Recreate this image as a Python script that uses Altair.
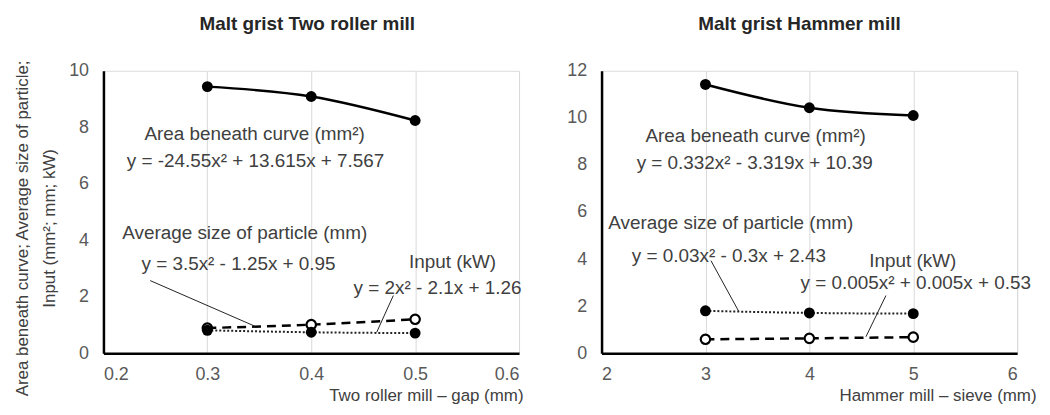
import altair as alt
import pandas as pd

FONT = "Liberation Sans"

# ---- data: two roller mill ----
gap = [0.3, 0.4, 0.5]
roller_area = [9.44, 9.09, 8.24]
roller_dashed = [0.89, 1.01, 1.20]
roller_dotted = [0.81, 0.74, 0.71]

# ---- data: hammer mill ----
sieve = [3, 4, 5]
hammer_area = [11.42, 10.43, 10.10]
hammer_dotted = [1.80, 1.71, 1.68]
hammer_dashed = [0.59, 0.63, 0.68]

# ---- annotation texts ----
roller_texts = ["Area beneath curve (mm²)", "y = -24.55x² + 13.615x + 7.567",
                "Average size of particle (mm)", "y = 3.5x² - 1.25x + 0.95",
                "Input (kW)", "y = 2x² - 2.1x + 1.26"]
roller_tx = [0.3455, 0.3464, 0.336, 0.330, 0.536, 0.5215]
roller_ty = [7.75, 6.80, 4.26, 3.17, 3.24, 2.32]
roller_lead_x = [0.245, 0.479]
roller_lead_y = [2.57, 2.04]
roller_lead_x2 = [0.346, 0.463]
roller_lead_y2 = [0.95, 0.74]

hammer_texts = ["Area beneath curve (mm²)", "y = 0.332x² - 3.319x + 10.39",
                "Average size of particle (mm)", "y = 0.03x² - 0.3x + 2.43",
                "Input (kW)", "y = 0.005x² + 0.005x + 0.53"]
hammer_tx = [3.483, 3.474, 3.244, 3.225, 4.995, 5.024]
hammer_ty = [9.21, 8.07, 5.53, 4.14, 3.93, 2.96]
hammer_lead_x = [3.053, 4.737]
hammer_lead_y = [3.93, 2.45]
hammer_lead_x2 = [3.32, 4.545]
hammer_lead_y2 = [1.78, 0.70]

W, H = 418, 284


def panel(xs, area, dashed, dotted, xdom, xticks, xfmt, ydom, yticks,
          title, title_dx, xtitle, xtitle_x, ytitle, texts, tx, ty, lx, ly, lx2, ly2):
    xaxis = alt.Axis(values=xticks, format=xfmt, grid=True, gridColor="#d9d9d9",
                     gridWidth=1, domainColor="black", domainWidth=2.5, ticks=False,
                     labelFontSize=18, labelColor="#595959", labelFont=FONT,
                     labelPadding=12, title=xtitle, titleFontSize=17,
                     titleFontWeight="normal", titleColor="#404040", titleFont=FONT,
                     titleX=xtitle_x, titleAlign="right", titlePadding=5)
    yaxis_kw = dict(values=yticks, grid=False, domainColor="black", domainWidth=2.5,
                    ticks=False, labelFontSize=18, labelColor="#595959",
                    labelFont=FONT, labelPadding=15)
    if ytitle:
        yaxis = alt.Axis(title=ytitle, titleFontSize=17, titleFontWeight="normal",
                         titleColor="#404040", titleFont=FONT, titlePadding=10,
                         titleLineHeight=27, titleY=H / 2 + 16, **yaxis_kw)
    else:
        yaxis = alt.Axis(title=None, **yaxis_kw)
    X = alt.X("x:Q", scale=alt.Scale(domain=xdom, nice=False, zero=False), axis=xaxis)
    Y = alt.Y("y:Q", scale=alt.Scale(domain=ydom, nice=False), axis=yaxis)

    d_area = pd.DataFrame({"x": xs, "y": area})
    d_dash = pd.DataFrame({"x": xs, "y": dashed})
    d_dot = pd.DataFrame({"x": xs, "y": dotted})
    d_txt = pd.DataFrame({"x": tx, "y": ty, "t": texts})
    d_lead = pd.DataFrame({"x": lx, "y": ly, "x2": lx2, "y2": ly2})
    d_title = pd.DataFrame({"t": [title]})

    layers = [
        alt.Chart(d_area).mark_line(color="black", strokeWidth=2.5, interpolate="natural").encode(x=X, y=Y),
        alt.Chart(d_area).mark_point(filled=True, color="black", size=120, opacity=1).encode(x=X, y=Y),
        alt.Chart(d_dash).mark_line(color="black", strokeWidth=2.5, strokeDash=[9, 6], interpolate="natural").encode(x=X, y=Y),
        alt.Chart(d_dash).mark_point(filled=True, fill="white", stroke="black", strokeWidth=2.2, size=90, opacity=1).encode(x=X, y=Y),
        alt.Chart(d_dot).mark_line(color="#222222", strokeWidth=2, strokeDash=[2, 2], interpolate="natural").encode(x=X, y=Y),
        alt.Chart(d_dot).mark_point(filled=True, color="black", size=120, opacity=1).encode(x=X, y=Y),
        alt.Chart(d_lead).mark_rule(color="#222222", strokeWidth=1).encode(x=X, y=Y, x2="x2:Q", y2="y2:Q"),
        alt.Chart(d_txt).mark_text(fontSize=19, font=FONT, color="#404040", align="center", baseline="middle").encode(x=X, y=Y, text="t:N"),
        alt.Chart(d_title).mark_text(fontSize=19, fontWeight="bold", font=FONT, color="#262626",
                                     align="center", baseline="middle").encode(
            text="t:N", x=alt.value(W / 2 + title_dx), y=alt.value(-47)),
    ]
    return alt.layer(*layers).properties(width=W, height=H)


left = panel(gap, roller_area, roller_dashed, roller_dotted, [0.2, 0.6],
             [0.2, 0.3, 0.4, 0.5, 0.6], ".1f", [0, 10], [0, 2, 4, 6, 8, 10],
             "Malt grist Two roller mill", -4, "Two roller mill – gap (mm)", 422,
             ["Area beneath curve; Average size of particle;", "Input (mm²; mm; kW)"],
             roller_texts, roller_tx, roller_ty,
             roller_lead_x, roller_lead_y, roller_lead_x2, roller_lead_y2)

right = panel(sieve, hammer_area, hammer_dashed, hammer_dotted, [2, 6],
              [2, 3, 4, 5, 6], "d", [0, 12], [0, 2, 4, 6, 8, 10, 12],
              "Malt grist Hammer mill", -10, "Hammer mill – sieve (mm)", 437,
              None, hammer_texts, hammer_tx, hammer_ty,
              hammer_lead_x, hammer_lead_y, hammer_lead_x2, hammer_lead_y2)

chart = alt.hconcat(left, right, spacing=42).configure_view(stroke=None).configure(
    background="white")

chart.save("out.html", embed_options={"renderer": "svg", "actions": False})
